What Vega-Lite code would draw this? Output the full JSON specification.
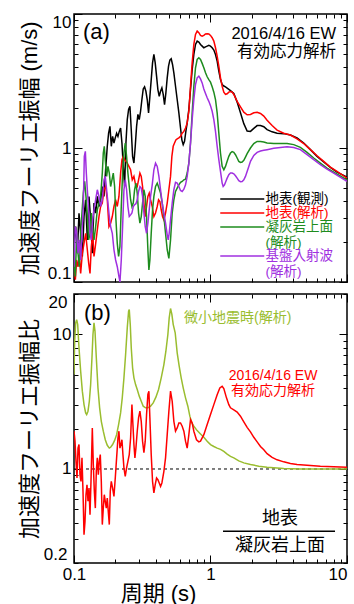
{
"$schema": "https://vega.github.io/schema/vega-lite/v6.json",
"padding": {"left": 17, "top": 12, "right": 0, "bottom": 0},
"spacing": 8,
"config": {
  "font": "'Liberation Sans', 'Noto Sans CJK JP', sans-serif",
  "view": {"stroke": "#000000", "strokeWidth": 1.5},
  "axis": {"grid": false, "domain": false, "tickColor": "#000000", "tickWidth": 1, "labelColor": "#000000", "titleColor": "#000000", "labelFontSize": 17, "titleFontSize": 22, "titleFontWeight": "normal", "labelPadding": 11}
},
"datasets": {
"top": [
{"s":"obs","t":0.1,"v":0.195},{"s":"obs","t":0.1029,"v":0.259},{"s":"obs","t":0.1058,"v":0.164},{"s":"obs","t":0.1088,"v":0.326},{"s":"obs","t":0.1119,"v":0.231},{"s":"obs","t":0.1151,"v":0.155},{"s":"obs","t":0.1184,"v":0.308},{"s":"obs","t":0.1217,"v":0.411},{"s":"obs","t":0.1252,"v":0.206},{"s":"obs","t":0.1288,"v":0.435},{"s":"obs","t":0.1324,"v":0.291},{"s":"obs","t":0.1362,"v":0.164},{"s":"obs","t":0.1401,"v":0.388},{"s":"obs","t":0.1441,"v":0.327},{"s":"obs","t":0.1482,"v":0.435},{"s":"obs","t":0.1524,"v":0.366},{"s":"obs","t":0.1567,"v":0.411},{"s":"obs","t":0.1612,"v":0.516},{"s":"obs","t":0.1658,"v":0.435},{"s":"obs","t":0.1705,"v":0.688},{"s":"obs","t":0.1753,"v":1.03},{"s":"obs","t":0.1793,"v":1.29},{"s":"obs","t":0.1834,"v":1.45},{"s":"obs","t":0.1876,"v":1.03},{"s":"obs","t":0.1918,"v":1.22},{"s":"obs","t":0.1962,"v":1.09},{"s":"obs","t":0.2006,"v":1.19},{"s":"obs","t":0.2052,"v":1.29},{"s":"obs","t":0.2099,"v":1.22},{"s":"obs","t":0.2146,"v":1.33},{"s":"obs","t":0.2195,"v":1.41},{"s":"obs","t":0.2245,"v":1.09},{"s":"obs","t":0.2296,"v":0.729},{"s":"obs","t":0.2348,"v":0.516},{"s":"obs","t":0.2401,"v":1.09},{"s":"obs","t":0.2456,"v":1.63},{"s":"obs","t":0.2512,"v":1.94},{"s":"obs","t":0.2569,"v":2.05},{"s":"obs","t":0.2627,"v":1.37},{"s":"obs","t":0.2687,"v":0.866},{"s":"obs","t":0.2748,"v":0.772},{"s":"obs","t":0.281,"v":1.03},{"s":"obs","t":0.2874,"v":1.45},{"s":"obs","t":0.2939,"v":1.78},{"s":"obs","t":0.3006,"v":1.63},{"s":"obs","t":0.3074,"v":1.88},{"s":"obs","t":0.3144,"v":2.3},{"s":"obs","t":0.3215,"v":2.76},{"s":"obs","t":0.3288,"v":2.86},{"s":"obs","t":0.3363,"v":2.65},{"s":"obs","t":0.3439,"v":2.3},{"s":"obs","t":0.3517,"v":1.83},{"s":"obs","t":0.3597,"v":2.43},{"s":"obs","t":0.3679,"v":3.24},{"s":"obs","t":0.3762,"v":4.32},{"s":"obs","t":0.3848,"v":4.99},{"s":"obs","t":0.3935,"v":4.32},{"s":"obs","t":0.4026,"v":3.44},{"s":"obs","t":0.4117,"v":2.73},{"s":"obs","t":0.4211,"v":2.43},{"s":"obs","t":0.4306,"v":2.65},{"s":"obs","t":0.4404,"v":2.81},{"s":"obs","t":0.4504,"v":2.51},{"s":"obs","t":0.4606,"v":2.11},{"s":"obs","t":0.4711,"v":2.58},{"s":"obs","t":0.4818,"v":3.34},{"s":"obs","t":0.4927,"v":4.08},{"s":"obs","t":0.5039,"v":4.53},{"s":"obs","t":0.5153,"v":4.63},{"s":"obs","t":0.527,"v":4.2},{"s":"obs","t":0.539,"v":3.64},{"s":"obs","t":0.5543,"v":2.89},{"s":"obs","t":0.5701,"v":2.3},{"s":"obs","t":0.5864,"v":1.83},{"s":"obs","t":0.6031,"v":1.41},{"s":"obs","t":0.6168,"v":1.15},{"s":"obs","t":0.631,"v":1.06},{"s":"obs","t":0.6453,"v":1.12},{"s":"obs","t":0.6599,"v":1.33},{"s":"obs","t":0.6748,"v":1.54},{"s":"obs","t":0.6941,"v":1.94},{"s":"obs","t":0.7138,"v":2.73},{"s":"obs","t":0.7341,"v":3.85},{"s":"obs","t":0.755,"v":4.99},{"s":"obs","t":0.7765,"v":5.93},{"s":"obs","t":0.7987,"v":6.28},{"s":"obs","t":0.8214,"v":6.17},{"s":"obs","t":0.8448,"v":5.93},{"s":"obs","t":0.8688,"v":5.76},{"s":"obs","t":0.8936,"v":5.6},{"s":"obs","t":0.9193,"v":5.69},{"s":"obs","t":0.9454,"v":5.76},{"s":"obs","t":0.9723,"v":5.83},{"s":"obs","t":1.0,"v":5.76},{"s":"obs","t":1.0285,"v":5.6},{"s":"obs","t":1.0578,"v":5.38},{"s":"obs","t":1.0879,"v":4.99},{"s":"obs","t":1.1189,"v":4.45},{"s":"obs","t":1.1508,"v":3.75},{"s":"obs","t":1.1836,"v":3.24},{"s":"obs","t":1.2173,"v":2.98},{"s":"obs","t":1.252,"v":2.9},{"s":"obs","t":1.2876,"v":2.86},{"s":"obs","t":1.3243,"v":2.8},{"s":"obs","t":1.4008,"v":2.68},{"s":"obs","t":1.4818,"v":2.55},{"s":"obs","t":1.5674,"v":2.2},{"s":"obs","t":1.6579,"v":1.83},{"s":"obs","t":1.754,"v":1.52},{"s":"obs","t":1.8551,"v":1.34},{"s":"obs","t":1.9624,"v":1.33},{"s":"obs","t":2.0759,"v":1.4},{"s":"obs","t":2.196,"v":1.47},{"s":"obs","t":2.323,"v":1.47},{"s":"obs","t":2.4574,"v":1.44},{"s":"obs","t":2.5975,"v":1.37},{"s":"obs","t":2.8273,"v":1.32},{"s":"obs","t":3.075,"v":1.29},{"s":"obs","t":3.4405,"v":1.28},{"s":"obs","t":3.8494,"v":1.25},{"s":"obs","t":4.3063,"v":1.19},{"s":"obs","t":4.8189,"v":1.09},{"s":"obs","t":5.3924,"v":0.972},{"s":"obs","t":6.0339,"v":0.866},{"s":"obs","t":6.7499,"v":0.786},{"s":"obs","t":7.551,"v":0.717},{"s":"obs","t":8.4479,"v":0.661},{"s":"obs","t":10,"v":0.607},
{"s":"sim","t":0.1,"v":0.13},{"s":"sim","t":0.1023,"v":0.104},{"s":"sim","t":0.1046,"v":0.146},{"s":"sim","t":0.107,"v":0.13},{"s":"sim","t":0.1094,"v":0.155},{"s":"sim","t":0.1119,"v":0.116},{"s":"sim","t":0.1151,"v":0.164},{"s":"sim","t":0.1184,"v":0.194},{"s":"sim","t":0.1217,"v":0.231},{"s":"sim","t":0.1252,"v":0.174},{"s":"sim","t":0.1281,"v":0.138},{"s":"sim","t":0.131,"v":0.116},{"s":"sim","t":0.1339,"v":0.184},{"s":"sim","t":0.137,"v":0.231},{"s":"sim","t":0.1401,"v":0.155},{"s":"sim","t":0.1433,"v":0.184},{"s":"sim","t":0.1482,"v":0.245},{"s":"sim","t":0.1524,"v":0.308},{"s":"sim","t":0.1567,"v":0.366},{"s":"sim","t":0.1612,"v":0.388},{"s":"sim","t":0.1658,"v":0.488},{"s":"sim","t":0.1705,"v":0.516},{"s":"sim","t":0.1753,"v":0.411},{"s":"sim","t":0.1803,"v":0.259},{"s":"sim","t":0.1855,"v":0.275},{"s":"sim","t":0.1908,"v":0.308},{"s":"sim","t":0.1962,"v":0.366},{"s":"sim","t":0.2018,"v":0.411},{"s":"sim","t":0.2075,"v":0.366},{"s":"sim","t":0.2134,"v":0.435},{"s":"sim","t":0.2195,"v":0.65},{"s":"sim","t":0.2245,"v":0.818},{"s":"sim","t":0.2296,"v":0.866},{"s":"sim","t":0.2348,"v":0.818},{"s":"sim","t":0.2401,"v":0.795},{"s":"sim","t":0.2456,"v":0.772},{"s":"sim","t":0.2526,"v":0.729},{"s":"sim","t":0.2598,"v":0.688},{"s":"sim","t":0.2672,"v":0.579},{"s":"sim","t":0.2748,"v":0.614},{"s":"sim","t":0.2826,"v":0.531},{"s":"sim","t":0.2906,"v":0.516},{"s":"sim","t":0.2972,"v":0.579},{"s":"sim","t":0.304,"v":0.65},{"s":"sim","t":0.3109,"v":0.614},{"s":"sim","t":0.3179,"v":0.516},{"s":"sim","t":0.3252,"v":0.388},{"s":"sim","t":0.3325,"v":0.308},{"s":"sim","t":0.3401,"v":0.366},{"s":"sim","t":0.3478,"v":0.435},{"s":"sim","t":0.3557,"v":0.461},{"s":"sim","t":0.3638,"v":0.411},{"s":"sim","t":0.3741,"v":0.366},{"s":"sim","t":0.3848,"v":0.308},{"s":"sim","t":0.3957,"v":0.327},{"s":"sim","t":0.4072,"v":0.366},{"s":"sim","t":0.4164,"v":0.411},{"s":"sim","t":0.4258,"v":0.399},{"s":"sim","t":0.4355,"v":0.346},{"s":"sim","t":0.4454,"v":0.308},{"s":"sim","t":0.4555,"v":0.291},{"s":"sim","t":0.4684,"v":0.327},{"s":"sim","t":0.4818,"v":0.388},{"s":"sim","t":0.4955,"v":0.488},{"s":"sim","t":0.5096,"v":0.614},{"s":"sim","t":0.5212,"v":0.866},{"s":"sim","t":0.533,"v":1.03},{"s":"sim","t":0.5451,"v":1.09},{"s":"sim","t":0.5575,"v":1.15},{"s":"sim","t":0.5701,"v":1.17},{"s":"sim","t":0.5864,"v":1.19},{"s":"sim","t":0.6031,"v":1.22},{"s":"sim","t":0.6202,"v":1.29},{"s":"sim","t":0.6381,"v":1.33},{"s":"sim","t":0.6562,"v":1.41},{"s":"sim","t":0.6748,"v":1.54},{"s":"sim","t":0.6941,"v":1.88},{"s":"sim","t":0.7138,"v":2.89},{"s":"sim","t":0.7341,"v":4.32},{"s":"sim","t":0.755,"v":5.93},{"s":"sim","t":0.7765,"v":7.04},{"s":"sim","t":0.7987,"v":7.46},{"s":"sim","t":0.8214,"v":7.25},{"s":"sim","t":0.8448,"v":6.92},{"s":"sim","t":0.8688,"v":6.84},{"s":"sim","t":0.8936,"v":6.92},{"s":"sim","t":0.9193,"v":7.09},{"s":"sim","t":0.9454,"v":7.13},{"s":"sim","t":0.9723,"v":7.09},{"s":"sim","t":1.0,"v":6.92},{"s":"sim","t":1.0285,"v":6.65},{"s":"sim","t":1.0578,"v":6.28},{"s":"sim","t":1.0879,"v":5.6},{"s":"sim","t":1.1189,"v":4.85},{"s":"sim","t":1.1508,"v":4.08},{"s":"sim","t":1.1836,"v":3.34},{"s":"sim","t":1.2173,"v":2.89},{"s":"sim","t":1.252,"v":2.61},{"s":"sim","t":1.2876,"v":2.51},{"s":"sim","t":1.3243,"v":2.54},{"s":"sim","t":1.3621,"v":2.61},{"s":"sim","t":1.4008,"v":2.64},{"s":"sim","t":1.4407,"v":2.61},{"s":"sim","t":1.4818,"v":2.51},{"s":"sim","t":1.5674,"v":2.23},{"s":"sim","t":1.6579,"v":2.03},{"s":"sim","t":1.754,"v":1.85},{"s":"sim","t":1.8551,"v":1.77},{"s":"sim","t":1.9624,"v":1.78},{"s":"sim","t":2.0759,"v":1.83},{"s":"sim","t":2.196,"v":1.85},{"s":"sim","t":2.323,"v":1.81},{"s":"sim","t":2.4574,"v":1.73},{"s":"sim","t":2.5975,"v":1.61},{"s":"sim","t":2.8273,"v":1.47},{"s":"sim","t":3.075,"v":1.36},{"s":"sim","t":3.4405,"v":1.29},{"s":"sim","t":3.8494,"v":1.25},{"s":"sim","t":4.3063,"v":1.17},{"s":"sim","t":4.8189,"v":1.08},{"s":"sim","t":5.3924,"v":0.972},{"s":"sim","t":6.0339,"v":0.876},{"s":"sim","t":6.7499,"v":0.795},{"s":"sim","t":7.551,"v":0.721},{"s":"sim","t":8.4479,"v":0.669},{"s":"sim","t":10,"v":0.596},
{"s":"tuff","t":0.1,"v":0.138},{"s":"tuff","t":0.1023,"v":0.11},{"s":"tuff","t":0.1046,"v":0.231},{"s":"tuff","t":0.107,"v":0.164},{"s":"tuff","t":0.1094,"v":0.13},{"s":"tuff","t":0.1119,"v":0.231},{"s":"tuff","t":0.1144,"v":0.327},{"s":"tuff","t":0.117,"v":0.461},{"s":"tuff","t":0.1197,"v":0.563},{"s":"tuff","t":0.1224,"v":0.435},{"s":"tuff","t":0.1252,"v":0.308},{"s":"tuff","t":0.1281,"v":0.206},{"s":"tuff","t":0.131,"v":0.231},{"s":"tuff","t":0.1339,"v":0.327},{"s":"tuff","t":0.137,"v":0.259},{"s":"tuff","t":0.1401,"v":0.206},{"s":"tuff","t":0.1441,"v":0.259},{"s":"tuff","t":0.1482,"v":0.346},{"s":"tuff","t":0.1524,"v":0.388},{"s":"tuff","t":0.1567,"v":0.435},{"s":"tuff","t":0.1612,"v":0.65},{"s":"tuff","t":0.1639,"v":0.917},{"s":"tuff","t":0.1667,"v":1.03},{"s":"tuff","t":0.1695,"v":0.818},{"s":"tuff","t":0.1734,"v":0.614},{"s":"tuff","t":0.1773,"v":0.729},{"s":"tuff","t":0.1814,"v":0.65},{"s":"tuff","t":0.1855,"v":0.516},{"s":"tuff","t":0.1897,"v":0.579},{"s":"tuff","t":0.194,"v":0.65},{"s":"tuff","t":0.1984,"v":0.516},{"s":"tuff","t":0.2029,"v":0.291},{"s":"tuff","t":0.2075,"v":0.194},{"s":"tuff","t":0.2122,"v":0.155},{"s":"tuff","t":0.217,"v":0.184},{"s":"tuff","t":0.222,"v":0.366},{"s":"tuff","t":0.227,"v":0.65},{"s":"tuff","t":0.2322,"v":0.917},{"s":"tuff","t":0.2374,"v":1.09},{"s":"tuff","t":0.2428,"v":0.866},{"s":"tuff","t":0.2483,"v":0.65},{"s":"tuff","t":0.254,"v":0.516},{"s":"tuff","t":0.2598,"v":0.411},{"s":"tuff","t":0.2657,"v":0.366},{"s":"tuff","t":0.2717,"v":0.388},{"s":"tuff","t":0.2779,"v":0.488},{"s":"tuff","t":0.2842,"v":0.547},{"s":"tuff","t":0.2906,"v":0.461},{"s":"tuff","t":0.2972,"v":0.327},{"s":"tuff","t":0.304,"v":0.275},{"s":"tuff","t":0.3109,"v":0.308},{"s":"tuff","t":0.3179,"v":0.388},{"s":"tuff","t":0.3252,"v":0.488},{"s":"tuff","t":0.3325,"v":0.435},{"s":"tuff","t":0.3401,"v":0.308},{"s":"tuff","t":0.3478,"v":0.174},{"s":"tuff","t":0.3537,"v":0.123},{"s":"tuff","t":0.3597,"v":0.146},{"s":"tuff","t":0.3679,"v":0.231},{"s":"tuff","t":0.3762,"v":0.346},{"s":"tuff","t":0.3848,"v":0.435},{"s":"tuff","t":0.3957,"v":0.516},{"s":"tuff","t":0.4072,"v":0.547},{"s":"tuff","t":0.4187,"v":0.502},{"s":"tuff","t":0.4306,"v":0.461},{"s":"tuff","t":0.4429,"v":0.388},{"s":"tuff","t":0.4555,"v":0.308},{"s":"tuff","t":0.4684,"v":0.231},{"s":"tuff","t":0.4818,"v":0.174},{"s":"tuff","t":0.4955,"v":0.15},{"s":"tuff","t":0.5096,"v":0.206},{"s":"tuff","t":0.5241,"v":0.327},{"s":"tuff","t":0.539,"v":0.411},{"s":"tuff","t":0.5543,"v":0.474},{"s":"tuff","t":0.5701,"v":0.502},{"s":"tuff","t":0.5864,"v":0.531},{"s":"tuff","t":0.6031,"v":0.554},{"s":"tuff","t":0.6202,"v":0.563},{"s":"tuff","t":0.6381,"v":0.579},{"s":"tuff","t":0.6562,"v":0.586},{"s":"tuff","t":0.6748,"v":0.65},{"s":"tuff","t":0.6941,"v":0.772},{"s":"tuff","t":0.7138,"v":1.09},{"s":"tuff","t":0.7341,"v":1.83},{"s":"tuff","t":0.755,"v":2.89},{"s":"tuff","t":0.7765,"v":3.97},{"s":"tuff","t":0.7987,"v":4.58},{"s":"tuff","t":0.8214,"v":4.71},{"s":"tuff","t":0.8448,"v":4.58},{"s":"tuff","t":0.8688,"v":4.28},{"s":"tuff","t":0.8936,"v":3.97},{"s":"tuff","t":0.9193,"v":3.64},{"s":"tuff","t":0.9454,"v":3.4},{"s":"tuff","t":0.9723,"v":3.24},{"s":"tuff","t":1.0,"v":3.1},{"s":"tuff","t":1.0285,"v":2.86},{"s":"tuff","t":1.0578,"v":2.61},{"s":"tuff","t":1.0879,"v":2.3},{"s":"tuff","t":1.1189,"v":1.83},{"s":"tuff","t":1.1508,"v":1.29},{"s":"tuff","t":1.1836,"v":0.917},{"s":"tuff","t":1.2173,"v":0.729},{"s":"tuff","t":1.252,"v":0.688},{"s":"tuff","t":1.2876,"v":0.729},{"s":"tuff","t":1.3243,"v":0.795},{"s":"tuff","t":1.3621,"v":0.866},{"s":"tuff","t":1.4008,"v":0.917},{"s":"tuff","t":1.4407,"v":0.939},{"s":"tuff","t":1.4818,"v":0.928},{"s":"tuff","t":1.524,"v":0.891},{"s":"tuff","t":1.5674,"v":0.842},{"s":"tuff","t":1.612,"v":0.795},{"s":"tuff","t":1.6579,"v":0.781},{"s":"tuff","t":1.7052,"v":0.786},{"s":"tuff","t":1.754,"v":0.809},{"s":"tuff","t":1.8037,"v":0.856},{"s":"tuff","t":1.8551,"v":0.907},{"s":"tuff","t":1.9624,"v":1.0},{"s":"tuff","t":2.0759,"v":1.08},{"s":"tuff","t":2.196,"v":1.12},{"s":"tuff","t":2.323,"v":1.12},{"s":"tuff","t":2.4574,"v":1.11},{"s":"tuff","t":2.5975,"v":1.09},{"s":"tuff","t":2.9069,"v":1.08},{"s":"tuff","t":3.2527,"v":1.08},{"s":"tuff","t":3.6392,"v":1.08},{"s":"tuff","t":4.0718,"v":1.06},{"s":"tuff","t":4.5553,"v":1.01},{"s":"tuff","t":5.0973,"v":0.928},{"s":"tuff","t":5.7032,"v":0.842},{"s":"tuff","t":6.3814,"v":0.772},{"s":"tuff","t":7.139,"v":0.708},{"s":"tuff","t":7.9887,"v":0.661},{"s":"tuff","t":10,"v":0.579},
{"s":"base","t":0.1,"v":0.13},{"s":"base","t":0.1023,"v":0.259},{"s":"base","t":0.1046,"v":0.231},{"s":"base","t":0.107,"v":0.164},{"s":"base","t":0.1094,"v":0.206},{"s":"base","t":0.1119,"v":0.146},{"s":"base","t":0.1144,"v":0.231},{"s":"base","t":0.117,"v":0.366},{"s":"base","t":0.119,"v":0.866},{"s":"base","t":0.1211,"v":0.944},{"s":"base","t":0.1231,"v":0.65},{"s":"base","t":0.1252,"v":0.488},{"s":"base","t":0.1281,"v":0.346},{"s":"base","t":0.131,"v":0.231},{"s":"base","t":0.1339,"v":0.206},{"s":"base","t":0.137,"v":0.291},{"s":"base","t":0.1401,"v":0.346},{"s":"base","t":0.1441,"v":0.411},{"s":"base","t":0.1482,"v":0.488},{"s":"base","t":0.1524,"v":0.435},{"s":"base","t":0.1567,"v":0.366},{"s":"base","t":0.1612,"v":0.411},{"s":"base","t":0.1658,"v":0.579},{"s":"base","t":0.1695,"v":0.614},{"s":"base","t":0.1734,"v":0.488},{"s":"base","t":0.1773,"v":0.388},{"s":"base","t":0.1814,"v":0.308},{"s":"base","t":0.1855,"v":0.259},{"s":"base","t":0.1908,"v":0.231},{"s":"base","t":0.1962,"v":0.174},{"s":"base","t":0.2018,"v":0.146},{"s":"base","t":0.2075,"v":0.13},{"s":"base","t":0.2134,"v":0.11},{"s":"base","t":0.2171,"v":0.1},{"s":"base","t":0.222,"v":0.146},{"s":"base","t":0.227,"v":0.259},{"s":"base","t":0.2322,"v":0.488},{"s":"base","t":0.2374,"v":0.579},{"s":"base","t":0.2428,"v":0.488},{"s":"base","t":0.2483,"v":0.366},{"s":"base","t":0.254,"v":0.308},{"s":"base","t":0.2598,"v":0.317},{"s":"base","t":0.2657,"v":0.327},{"s":"base","t":0.2717,"v":0.366},{"s":"base","t":0.2779,"v":0.377},{"s":"base","t":0.2842,"v":0.384},{"s":"base","t":0.2906,"v":0.411},{"s":"base","t":0.2972,"v":0.474},{"s":"base","t":0.304,"v":0.516},{"s":"base","t":0.3109,"v":0.502},{"s":"base","t":0.3179,"v":0.435},{"s":"base","t":0.3252,"v":0.327},{"s":"base","t":0.3325,"v":0.259},{"s":"base","t":0.3401,"v":0.231},{"s":"base","t":0.3478,"v":0.275},{"s":"base","t":0.3557,"v":0.346},{"s":"base","t":0.3638,"v":0.435},{"s":"base","t":0.3741,"v":0.531},{"s":"base","t":0.3848,"v":0.688},{"s":"base","t":0.3957,"v":0.772},{"s":"base","t":0.4072,"v":0.729},{"s":"base","t":0.4187,"v":0.614},{"s":"base","t":0.4306,"v":0.488},{"s":"base","t":0.4429,"v":0.388},{"s":"base","t":0.4555,"v":0.327},{"s":"base","t":0.4684,"v":0.275},{"s":"base","t":0.4818,"v":0.225},{"s":"base","t":0.4899,"v":0.206},{"s":"base","t":0.4983,"v":0.231},{"s":"base","t":0.5096,"v":0.291},{"s":"base","t":0.5241,"v":0.388},{"s":"base","t":0.539,"v":0.488},{"s":"base","t":0.5543,"v":0.554},{"s":"base","t":0.5701,"v":0.547},{"s":"base","t":0.5864,"v":0.516},{"s":"base","t":0.6031,"v":0.482},{"s":"base","t":0.6202,"v":0.474},{"s":"base","t":0.6381,"v":0.493},{"s":"base","t":0.6562,"v":0.531},{"s":"base","t":0.6748,"v":0.614},{"s":"base","t":0.6941,"v":0.772},{"s":"base","t":0.7138,"v":1.09},{"s":"base","t":0.7341,"v":1.63},{"s":"base","t":0.755,"v":2.3},{"s":"base","t":0.7765,"v":2.98},{"s":"base","t":0.7987,"v":3.34},{"s":"base","t":0.8214,"v":3.44},{"s":"base","t":0.8448,"v":3.28},{"s":"base","t":0.8688,"v":3.06},{"s":"base","t":0.8936,"v":2.76},{"s":"base","t":0.9193,"v":2.55},{"s":"base","t":0.9454,"v":2.37},{"s":"base","t":0.9723,"v":2.23},{"s":"base","t":1.0,"v":2.07},{"s":"base","t":1.0285,"v":1.88},{"s":"base","t":1.0578,"v":1.63},{"s":"base","t":1.0879,"v":1.33},{"s":"base","t":1.1189,"v":1.03},{"s":"base","t":1.1508,"v":0.818},{"s":"base","t":1.1836,"v":0.669},{"s":"base","t":1.2173,"v":0.547},{"s":"base","t":1.2382,"v":0.516},{"s":"base","t":1.2662,"v":0.531},{"s":"base","t":1.2949,"v":0.563},{"s":"base","t":1.3243,"v":0.596},{"s":"base","t":1.3621,"v":0.632},{"s":"base","t":1.4008,"v":0.65},{"s":"base","t":1.4407,"v":0.65},{"s":"base","t":1.4818,"v":0.642},{"s":"base","t":1.524,"v":0.621},{"s":"base","t":1.5674,"v":0.596},{"s":"base","t":1.612,"v":0.57},{"s":"base","t":1.6579,"v":0.56},{"s":"base","t":1.7052,"v":0.563},{"s":"base","t":1.754,"v":0.579},{"s":"base","t":1.8037,"v":0.614},{"s":"base","t":1.8551,"v":0.669},{"s":"base","t":1.908,"v":0.729},{"s":"base","t":1.9624,"v":0.795},{"s":"base","t":2.0759,"v":0.881},{"s":"base","t":2.196,"v":0.928},{"s":"base","t":2.323,"v":0.95},{"s":"base","t":2.4574,"v":0.961},{"s":"base","t":2.5975,"v":0.972},{"s":"base","t":2.9069,"v":0.994},{"s":"base","t":3.2527,"v":1.01},{"s":"base","t":3.6392,"v":1.02},{"s":"base","t":4.0718,"v":1.01},{"s":"base","t":4.5553,"v":0.972},{"s":"base","t":5.0973,"v":0.891},{"s":"base","t":5.7032,"v":0.818},{"s":"base","t":6.3814,"v":0.75},{"s":"base","t":7.139,"v":0.696},{"s":"base","t":7.9887,"v":0.65},{"s":"base","t":10,"v":0.563}
],
"bottom": [
{"s":"micro","t":0.1,"v":5.04},{"s":"micro","t":0.1011,"v":8.92},{"s":"micro","t":0.1029,"v":12.2},{"s":"micro","t":0.1046,"v":12.9},{"s":"micro","t":0.1064,"v":11.9},{"s":"micro","t":0.1088,"v":7.96},{"s":"micro","t":0.1119,"v":5.33},{"s":"micro","t":0.1151,"v":3.79},{"s":"micro","t":0.1184,"v":3.01},{"s":"micro","t":0.1217,"v":2.61},{"s":"micro","t":0.1238,"v":2.54},{"s":"micro","t":0.1266,"v":2.69},{"s":"micro","t":0.1295,"v":3.19},{"s":"micro","t":0.1324,"v":4.24},{"s":"micro","t":0.1354,"v":6.71},{"s":"micro","t":0.1377,"v":10.0},{"s":"micro","t":0.1401,"v":12.2},{"s":"micro","t":0.1425,"v":10.6},{"s":"micro","t":0.1457,"v":6.71},{"s":"micro","t":0.1498,"v":4.01},{"s":"micro","t":0.1541,"v":2.85},{"s":"micro","t":0.1585,"v":2.26},{"s":"micro","t":0.1639,"v":1.91},{"s":"micro","t":0.1695,"v":1.65},{"s":"micro","t":0.1753,"v":1.5},{"s":"micro","t":0.1814,"v":1.43},{"s":"micro","t":0.1855,"v":1.45},{"s":"micro","t":0.1918,"v":1.52},{"s":"micro","t":0.1984,"v":1.63},{"s":"micro","t":0.2052,"v":1.8},{"s":"micro","t":0.2122,"v":2.14},{"s":"micro","t":0.2195,"v":2.61},{"s":"micro","t":0.2257,"v":3.38},{"s":"micro","t":0.2322,"v":4.76},{"s":"micro","t":0.2388,"v":7.1},{"s":"micro","t":0.2456,"v":11.2},{"s":"micro","t":0.2512,"v":14.9},{"s":"micro","t":0.254,"v":15.3},{"s":"micro","t":0.2583,"v":11.9},{"s":"micro","t":0.2627,"v":7.96},{"s":"micro","t":0.2687,"v":5.65},{"s":"micro","t":0.2748,"v":4.76},{"s":"micro","t":0.2826,"v":4.24},{"s":"micro","t":0.2906,"v":3.9},{"s":"micro","t":0.3006,"v":3.48},{"s":"micro","t":0.3109,"v":3.19},{"s":"micro","t":0.3215,"v":2.93},{"s":"micro","t":0.3344,"v":2.85},{"s":"micro","t":0.3478,"v":2.85},{"s":"micro","t":0.3638,"v":2.93},{"s":"micro","t":0.3805,"v":3.1},{"s":"micro","t":0.3981,"v":3.42},{"s":"micro","t":0.4164,"v":3.9},{"s":"micro","t":0.4355,"v":4.76},{"s":"micro","t":0.4555,"v":5.98},{"s":"micro","t":0.4711,"v":7.51},{"s":"micro","t":0.4872,"v":10.0},{"s":"micro","t":0.4983,"v":13.3},{"s":"micro","t":0.5096,"v":15.6},{"s":"micro","t":0.5212,"v":14.1},{"s":"micro","t":0.533,"v":11.9},{"s":"micro","t":0.5512,"v":10.3},{"s":"micro","t":0.5701,"v":7.3},{"s":"micro","t":0.5897,"v":5.81},{"s":"micro","t":0.6099,"v":4.76},{"s":"micro","t":0.631,"v":4.01},{"s":"micro","t":0.6562,"v":3.38},{"s":"micro","t":0.6825,"v":2.93},{"s":"micro","t":0.7058,"v":2.47},{"s":"micro","t":0.73,"v":2.2},{"s":"micro","t":0.755,"v":2.08},{"s":"micro","t":0.7987,"v":1.93},{"s":"micro","t":0.8448,"v":1.82},{"s":"micro","t":0.8936,"v":1.72},{"s":"micro","t":0.9454,"v":1.61},{"s":"micro","t":1.0,"v":1.52},{"s":"micro","t":1.0578,"v":1.47},{"s":"micro","t":1.1189,"v":1.43},{"s":"micro","t":1.1836,"v":1.4},{"s":"micro","t":1.252,"v":1.35},{"s":"micro","t":1.3243,"v":1.29},{"s":"micro","t":1.4008,"v":1.24},{"s":"micro","t":1.4818,"v":1.21},{"s":"micro","t":1.612,"v":1.15},{"s":"micro","t":1.754,"v":1.11},{"s":"micro","t":1.9624,"v":1.08},{"s":"micro","t":2.2586,"v":1.05},{"s":"micro","t":2.5975,"v":1.03},{"s":"micro","t":3.4405,"v":1.01},{"s":"micro","t":4.5553,"v":1.0},{"s":"micro","t":10,"v":1.0},
{"s":"ratio","t":0.1,"v":1.91},{"s":"ratio","t":0.1017,"v":1.61},{"s":"ratio","t":0.1034,"v":1.14},{"s":"ratio","t":0.1052,"v":0.857},{"s":"ratio","t":0.107,"v":1.43},{"s":"ratio","t":0.1088,"v":1.52},{"s":"ratio","t":0.1106,"v":0.907},{"s":"ratio","t":0.1125,"v":0.809},{"s":"ratio","t":0.1144,"v":1.21},{"s":"ratio","t":0.1164,"v":0.682},{"s":"ratio","t":0.1184,"v":0.325},{"s":"ratio","t":0.1204,"v":0.408},{"s":"ratio","t":0.1224,"v":0.644},{"s":"ratio","t":0.1245,"v":0.764},{"s":"ratio","t":0.1266,"v":0.575},{"s":"ratio","t":0.1288,"v":0.722},{"s":"ratio","t":0.131,"v":0.457},{"s":"ratio","t":0.1332,"v":0.809},{"s":"ratio","t":0.1362,"v":2.02},{"s":"ratio","t":0.1385,"v":1.08},{"s":"ratio","t":0.1409,"v":0.682},{"s":"ratio","t":0.1433,"v":0.512},{"s":"ratio","t":0.1457,"v":0.961},{"s":"ratio","t":0.1482,"v":1.21},{"s":"ratio","t":0.1507,"v":0.907},{"s":"ratio","t":0.1532,"v":1.14},{"s":"ratio","t":0.1558,"v":1.28},{"s":"ratio","t":0.1585,"v":0.809},{"s":"ratio","t":0.1612,"v":0.386},{"s":"ratio","t":0.1639,"v":0.512},{"s":"ratio","t":0.1667,"v":0.644},{"s":"ratio","t":0.1695,"v":0.575},{"s":"ratio","t":0.1724,"v":0.512},{"s":"ratio","t":0.1753,"v":0.608},{"s":"ratio","t":0.1783,"v":0.484},{"s":"ratio","t":0.1814,"v":0.386},{"s":"ratio","t":0.1844,"v":0.682},{"s":"ratio","t":0.1876,"v":0.809},{"s":"ratio","t":0.1918,"v":0.722},{"s":"ratio","t":0.1962,"v":0.626},{"s":"ratio","t":0.2006,"v":0.857},{"s":"ratio","t":0.2052,"v":1.21},{"s":"ratio","t":0.2099,"v":1.7},{"s":"ratio","t":0.2134,"v":1.91},{"s":"ratio","t":0.217,"v":1.43},{"s":"ratio","t":0.2207,"v":1.52},{"s":"ratio","t":0.2245,"v":1.65},{"s":"ratio","t":0.2283,"v":1.28},{"s":"ratio","t":0.2322,"v":1.02},{"s":"ratio","t":0.2374,"v":0.882},{"s":"ratio","t":0.2428,"v":1.02},{"s":"ratio","t":0.2483,"v":1.14},{"s":"ratio","t":0.254,"v":1.28},{"s":"ratio","t":0.2598,"v":1.7},{"s":"ratio","t":0.2657,"v":3.01},{"s":"ratio","t":0.2702,"v":2.14},{"s":"ratio","t":0.2748,"v":1.52},{"s":"ratio","t":0.2794,"v":1.21},{"s":"ratio","t":0.2842,"v":1.43},{"s":"ratio","t":0.2906,"v":1.91},{"s":"ratio","t":0.2972,"v":2.4},{"s":"ratio","t":0.304,"v":2.69},{"s":"ratio","t":0.3109,"v":2.26},{"s":"ratio","t":0.3179,"v":1.61},{"s":"ratio","t":0.3252,"v":1.32},{"s":"ratio","t":0.3325,"v":1.61},{"s":"ratio","t":0.3401,"v":2.54},{"s":"ratio","t":0.3478,"v":3.58},{"s":"ratio","t":0.3537,"v":3.79},{"s":"ratio","t":0.3597,"v":2.4},{"s":"ratio","t":0.3679,"v":1.28},{"s":"ratio","t":0.3762,"v":0.809},{"s":"ratio","t":0.3848,"v":0.663},{"s":"ratio","t":0.3935,"v":0.764},{"s":"ratio","t":0.4026,"v":0.857},{"s":"ratio","t":0.4117,"v":0.833},{"s":"ratio","t":0.4211,"v":0.787},{"s":"ratio","t":0.4306,"v":0.743},{"s":"ratio","t":0.4404,"v":0.787},{"s":"ratio","t":0.4555,"v":0.961},{"s":"ratio","t":0.4684,"v":1.21},{"s":"ratio","t":0.4818,"v":1.8},{"s":"ratio","t":0.4955,"v":2.69},{"s":"ratio","t":0.5096,"v":3.79},{"s":"ratio","t":0.5241,"v":3.19},{"s":"ratio","t":0.539,"v":2.26},{"s":"ratio","t":0.5543,"v":1.91},{"s":"ratio","t":0.5701,"v":2.02},{"s":"ratio","t":0.5864,"v":2.2},{"s":"ratio","t":0.6031,"v":2.2},{"s":"ratio","t":0.6202,"v":2.08},{"s":"ratio","t":0.6381,"v":1.91},{"s":"ratio","t":0.6562,"v":1.61},{"s":"ratio","t":0.6748,"v":1.43},{"s":"ratio","t":0.6941,"v":1.8},{"s":"ratio","t":0.7138,"v":2.33},{"s":"ratio","t":0.7341,"v":2.2},{"s":"ratio","t":0.755,"v":1.91},{"s":"ratio","t":0.7897,"v":1.65},{"s":"ratio","t":0.8214,"v":1.59},{"s":"ratio","t":0.8448,"v":1.61},{"s":"ratio","t":0.8936,"v":1.8},{"s":"ratio","t":0.9454,"v":2.14},{"s":"ratio","t":1.0,"v":2.54},{"s":"ratio","t":1.0578,"v":3.01},{"s":"ratio","t":1.1189,"v":3.57},{"s":"ratio","t":1.1704,"v":4.01},{"s":"ratio","t":1.2173,"v":4.12},{"s":"ratio","t":1.252,"v":3.96},{"s":"ratio","t":1.3095,"v":3.38},{"s":"ratio","t":1.3621,"v":3.01},{"s":"ratio","t":1.4008,"v":2.85},{"s":"ratio","t":1.4818,"v":2.75},{"s":"ratio","t":1.5674,"v":2.65},{"s":"ratio","t":1.6579,"v":2.47},{"s":"ratio","t":1.754,"v":2.24},{"s":"ratio","t":1.8551,"v":2.04},{"s":"ratio","t":1.9624,"v":1.89},{"s":"ratio","t":2.0759,"v":1.72},{"s":"ratio","t":2.196,"v":1.59},{"s":"ratio","t":2.323,"v":1.47},{"s":"ratio","t":2.4574,"v":1.39},{"s":"ratio","t":2.5975,"v":1.3},{"s":"ratio","t":2.8273,"v":1.22},{"s":"ratio","t":3.075,"v":1.17},{"s":"ratio","t":3.4405,"v":1.13},{"s":"ratio","t":3.8494,"v":1.1},{"s":"ratio","t":4.3063,"v":1.08},{"s":"ratio","t":5.0973,"v":1.065},{"s":"ratio","t":6.3814,"v":1.047},{"s":"ratio","t":10,"v":1.029}
]
},
"vconcat": [
{
  "width": 273, "height": 268,
  "data": {"name": "top"},
  "layer": [
    {
      "mark": {"type": "line", "strokeWidth": 1.5, "clip": true},
      "encoding": {
        "x": {"field": "t", "type": "quantitative", "scale": {"type": "log", "domain": [0.1, 10], "nice": false},
              "axis": {"orient": "bottom", "values": [0.1,0.2,0.3,0.4,0.5,0.6,0.7,0.8,0.9,1,2,3,4,5,6,7,8,9,10], "labels": false, "title": null,
                       "tickSize": {"condition": {"test": "datum.value == 0.1 || datum.value == 1 || datum.value == 10", "value": -8}, "value": -4}}},
        "y": {"field": "v", "type": "quantitative", "scale": {"type": "log", "domain": [0.1, 10], "nice": false},
              "axis": {"orient": "left", "values": [0.1,0.2,0.3,0.4,0.5,0.6,0.7,0.8,0.9,1,2,3,4,5,6,7,8,9,10],
                       "labelExpr": "datum.value == 0.1 ? '0.1' : datum.value == 1 ? '1' : datum.value == 10 ? '10' : ''",
                       "labelFlush": true, "title": "加速度フーリエ振幅 (m/s)", "titleX": -45, "titleBaseline": "middle",
                       "tickSize": {"condition": {"test": "datum.value == 0.1 || datum.value == 1 || datum.value == 10", "value": -8}, "value": -4}}},
        "color": {"field": "s", "type": "nominal",
                  "scale": {"domain": ["obs", "sim", "tuff", "base"], "range": ["#000000", "#ff0000", "#1e8c1e", "#a030e0"]},
                  "legend": {"orient": "none", "legendX": 161.5, "legendY": 178.25, "title": null, "padding": 0,
                             "symbolType": "M-4,0H4", "symbolSize": 121, "symbolStrokeWidth": 1.5,
                             "labelFontSize": 13.5, "labelOffset": 16.5, "rowPadding": -2, "labelLimit": 0, "labelBaseline": "middle",
                             "labelExpr": "datum.value == 'obs' ? '地表(観測)' : datum.value == 'sim' ? '地表(解析)' : datum.value == 'tuff' ? ['凝灰岩上面', '(解析)'] : ['基盤入射波', '(解析)']",
                             "labelColor": {"expr": "datum.value == 'obs' ? '#000000' : datum.value == 'sim' ? '#ff0000' : datum.value == 'tuff' ? '#1e8c1e' : '#a030e0'"}}}
      }
    },
    {
      "data": {"values": [{"label": "(a)"}]},
      "mark": {"type": "text", "align": "left", "baseline": "middle", "fontSize": 22},
      "encoding": {
        "x": {"datum": 0.1164, "type": "quantitative",
              "axis": {"orient": "top", "values": [0.1,0.2,0.3,0.4,0.5,0.6,0.7,0.8,0.9,1,2,3,4,5,6,7,8,9,10], "labels": false, "title": null,
                       "tickSize": {"condition": {"test": "datum.value == 0.1 || datum.value == 1 || datum.value == 10", "value": -8}, "value": -4}}},
        "y": {"datum": 7.34, "type": "quantitative",
              "axis": {"orient": "right", "values": [0.1,0.2,0.3,0.4,0.5,0.6,0.7,0.8,0.9,1,2,3,4,5,6,7,8,9,10], "labels": false, "title": null,
                       "tickSize": {"condition": {"test": "datum.value == 0.1 || datum.value == 1 || datum.value == 10", "value": -8}, "value": -4}}},
        "text": {"field": "label"}
      }
    },
    {
      "data": {"values": [{"label": "2016/4/16 EW\n有効応力解析"}]},
      "mark": {"type": "text", "align": "right", "baseline": "middle", "fontSize": 16.5, "lineBreak": "\n", "lineHeight": 18},
      "encoding": {
        "x": {"datum": 8.31, "type": "quantitative", "axis": null},
        "y": {"datum": 7.09, "type": "quantitative", "axis": null},
        "text": {"field": "label"}
      }
    }
  ],
  "resolve": {"axis": {"x": "independent", "y": "independent"}}
},
{
  "width": 273, "height": 269,
  "data": {"name": "bottom"},
  "layer": [
    {
      "data": {"values": [{}]},
      "mark": {"type": "rule", "strokeDash": [3, 3], "strokeWidth": 1, "color": "#000000"},
      "encoding": {"y": {"datum": 1, "type": "quantitative", "scale": {"type": "log", "domain": [0.2, 20], "nice": false}, "axis": null}}
    },
    {
      "transform": [{"filter": "datum.s == 'micro'"}],
      "mark": {"type": "line", "strokeWidth": 1.5, "color": "#9abd2f", "clip": true},
      "encoding": {
        "x": {"field": "t", "type": "quantitative", "scale": {"type": "log", "domain": [0.1, 10], "nice": false},
              "axis": {"orient": "bottom", "values": [0.1,0.2,0.3,0.4,0.5,0.6,0.7,0.8,0.9,1,2,3,4,5,6,7,8,9,10],
                       "labelExpr": "datum.value == 0.1 ? '0.1' : datum.value == 1 ? '1' : datum.value == 10 ? '10' : ''",
                       "labelAlign": {"condition": {"test": "datum.value == 10", "value": "right"}, "value": "center"},
                       "title": "周期 (s)", "titleX": 84, "titleY": 30, "titleBaseline": "middle", "titleAlign": "center",
                       "tickSize": {"condition": {"test": "datum.value == 0.1 || datum.value == 1 || datum.value == 10", "value": -8}, "value": -4}}},
        "y": {"field": "v", "type": "quantitative", "scale": {"type": "log", "domain": [0.2, 20], "nice": false},
              "axis": {"orient": "left", "values": [0.2,0.3,0.4,0.5,0.6,0.7,0.8,0.9,1,2,3,4,5,6,7,8,9,10,20],
                       "labelExpr": "datum.value == 0.2 ? '0.2' : datum.value == 1 ? '1' : datum.value == 10 ? '10' : datum.value == 20 ? '20' : ''",
                       "labelFlush": true, "title": "加速度フーリエ振幅比", "titleX": -45, "titleBaseline": "middle",
                       "tickSize": {"condition": {"test": "datum.value == 1 || datum.value == 10", "value": -8}, "value": -4}}}
      }
    },
    {
      "transform": [{"filter": "datum.s == 'ratio'"}],
      "mark": {"type": "line", "strokeWidth": 1.5, "color": "#ff0000", "clip": true},
      "encoding": {
        "x": {"field": "t", "type": "quantitative",
              "axis": {"orient": "top", "values": [0.1,0.2,0.3,0.4,0.5,0.6,0.7,0.8,0.9,1,2,3,4,5,6,7,8,9,10], "labels": false, "title": null,
                       "tickSize": {"condition": {"test": "datum.value == 0.1 || datum.value == 1 || datum.value == 10", "value": -8}, "value": -4}}},
        "y": {"field": "v", "type": "quantitative",
              "axis": {"orient": "right", "values": [0.2,0.3,0.4,0.5,0.6,0.7,0.8,0.9,1,2,3,4,5,6,7,8,9,10,20], "labels": false, "title": null,
                       "tickSize": {"condition": {"test": "datum.value == 1 || datum.value == 10", "value": -8}, "value": -4}}}
      }
    },
    {
      "data": {"values": [{"label": "(b)"}]},
      "mark": {"type": "text", "align": "left", "baseline": "middle", "fontSize": 22},
      "encoding": {"x": {"datum": 0.1184, "type": "quantitative", "axis": null}, "y": {"datum": 14.4, "type": "quantitative", "axis": null}, "text": {"field": "label"}}
    },
    {
      "data": {"values": [{"label": "微小地震時(解析)"}]},
      "mark": {"type": "text", "align": "left", "baseline": "middle", "fontSize": 14, "color": "#9abd2f"},
      "encoding": {"x": {"datum": 0.6395, "type": "quantitative", "axis": null}, "y": {"datum": 13.25, "type": "quantitative", "axis": null}, "text": {"field": "label"}}
    },
    {
      "data": {"values": [{"label": "2016/4/16 EW\n有効応力解析"}]},
      "mark": {"type": "text", "align": "center", "baseline": "middle", "fontSize": 14, "lineBreak": "\n", "lineHeight": 15, "color": "#ff0000"},
      "encoding": {"x": {"datum": 2.87, "type": "quantitative", "axis": null}, "y": {"datum": 4.9, "type": "quantitative", "axis": null}, "text": {"field": "label"}}
    },
    {
      "data": {"values": [{"label": "地表"}]},
      "mark": {"type": "text", "align": "center", "baseline": "middle", "fontSize": 18, "color": "#000000"},
      "encoding": {"x": {"datum": 3.23, "type": "quantitative", "axis": null}, "y": {"datum": 0.422, "type": "quantitative", "axis": null}, "text": {"field": "label"}}
    },
    {
      "data": {"values": [{"label": "凝灰岩上面"}]},
      "mark": {"type": "text", "align": "center", "baseline": "middle", "fontSize": 18, "color": "#000000"},
      "encoding": {"x": {"datum": 3.23, "type": "quantitative", "axis": null}, "y": {"datum": 0.266, "type": "quantitative", "axis": null}, "text": {"field": "label"}}
    },
    {
      "data": {"values": [{}]},
      "mark": {"type": "rule", "strokeWidth": 1.5, "color": "#000000"},
      "encoding": {"x": {"datum": 1.235, "type": "quantitative", "axis": null}, "x2": {"datum": 8.17}, "y": {"datum": 0.344, "type": "quantitative", "axis": null}}
    }
  ],
  "resolve": {"axis": {"x": "independent", "y": "independent"}}
}
]
}
